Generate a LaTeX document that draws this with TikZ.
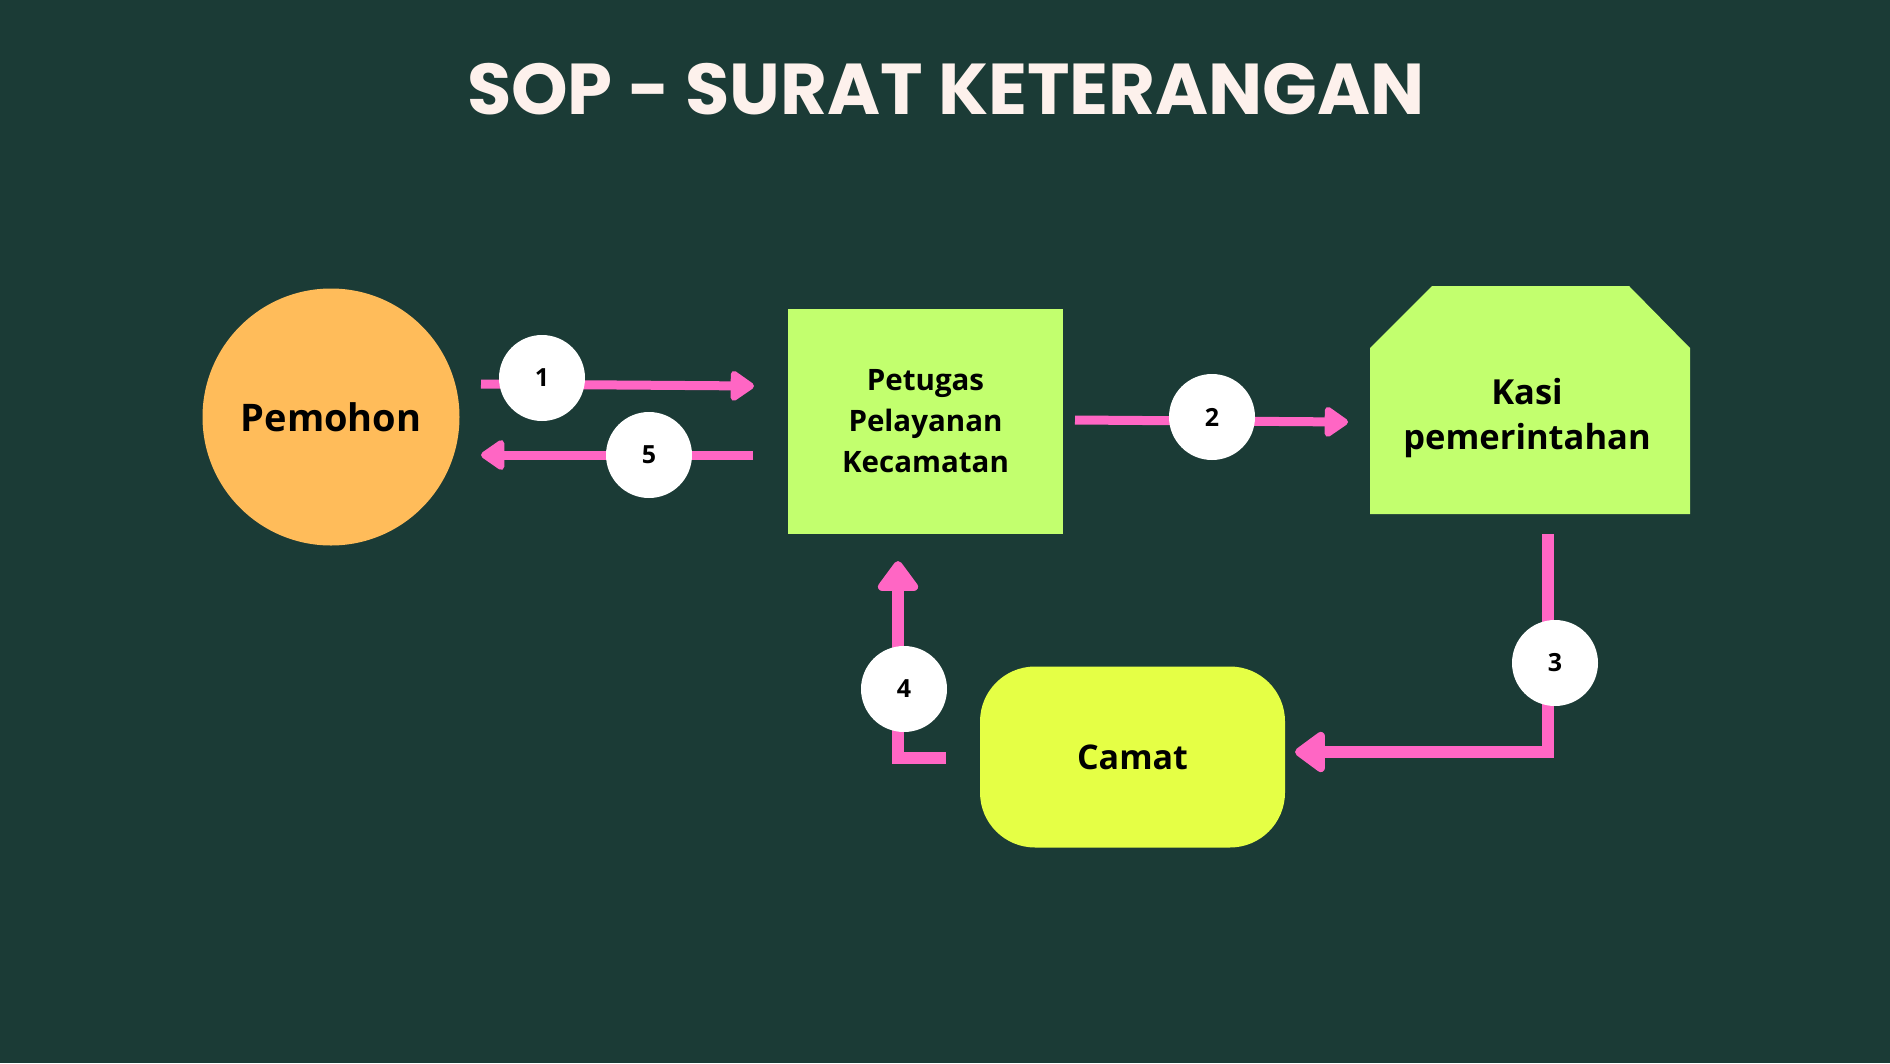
\documentclass[tikz,border=0pt]{standalone}
\usepackage{fontspec}
\setmainfont{Open Sans}
\newfontfamily\titlefont{Poppins}
\usetikzlibrary{arrows.meta,calc}
\definecolor{bg}{HTML}{1B3B36}
\definecolor{flowpink}{HTML}{FF66C4}
\definecolor{orangec}{HTML}{FFBC5A}
\definecolor{limec}{HTML}{C2FF6E}
\definecolor{yellowc}{HTML}{E5FF45}
\definecolor{cream}{HTML}{FDF1EC}
\tikzset{
  boxtext/.style={font=\bfseries, text=black, align=center},
  num/.style={circle, fill=white, minimum size=86pt, inner sep=0pt, font=\bfseries\fontsize{25}{28}\selectfont, text=black},
  thinflow/.style={draw=flowpink, line width=9pt, -{Triangle[length=26pt,width=34pt,round]}},
  thickflow/.style={draw=flowpink, line width=12.5pt, line join=miter, -{Triangle[length=33pt,width=46pt,round]}},
}
\begin{document}
\begin{tikzpicture}[x=1pt,y=-1pt]
\fill[bg] (0,0) rectangle (1890,1063);
\useasboundingbox (0,0) rectangle (1890,1063);

\node[font=\titlefont\bfseries\fontsize{72}{76}\selectfont, text=cream] (title) at (946,89) {SOP - SURAT KETERANGAN};

% Pemohon
\node[circle, fill=orangec, minimum size=257pt, inner sep=0pt, boxtext, font=\bfseries\fontsize{38}{44}\selectfont] (pemohon) at (331,417) {Pemohon};

% Petugas
\node[rectangle, fill=limec, minimum width=275pt, minimum height=225pt, inner sep=0pt, boxtext, font=\bfseries\fontsize{29.5}{41}\selectfont] (petugas) at (925.5,421.5) {Petugas\\Pelayanan\\Kecamatan};

% Kasi
\fill[limec] (1370,514) -- (1370,348) -- (1432,286) -- (1629,286) -- (1690,348) -- (1690,514) -- cycle;
\node[boxtext, font=\bfseries\fontsize{34.5}{45}\selectfont, minimum width=320pt, minimum height=228pt] (kasi) at (1527,418) {Kasi\\pemerintahan};

% Camat
\node[rectangle, rounded corners=55pt, fill=yellowc, minimum width=305pt, minimum height=181pt, inner sep=0pt, boxtext, font=\bfseries\fontsize{34}{40}\selectfont] (camat) at (1132.5,757) {Camat};

% connector end points
\coordinate (a1s) at (481,384);
\coordinate (a1e) at (754,386);
\coordinate (a5s) at (753,455);
\coordinate (a5e) at (481,455);
\coordinate (a2s) at (1075,420);
\coordinate (a2e) at (1348,422);
\coordinate (a3s) at (1548,534);
\coordinate (a3e) at (1295,752);
\coordinate (a4s) at (946,758);
\coordinate (a4e) at (898,561);

\draw[thinflow] (a1s) -- (a1e);
\draw[thinflow] (a5s) -- (a5e);
\draw[thinflow] (a2s) -- (a2e);
\draw[thickflow] (a3s) |- (a3e);
\draw[thickflow] (a4s) -| (a4e);

\node[num] (n1) at (542,378) {1};
\node[num] (n5) at (649,455) {5};
\node[num] (n2) at (1212,417) {2};
\node[num] (n3) at (1555,663) {3};
\node[num] (n4) at (904,689) {4};
\end{tikzpicture}
\end{document}
